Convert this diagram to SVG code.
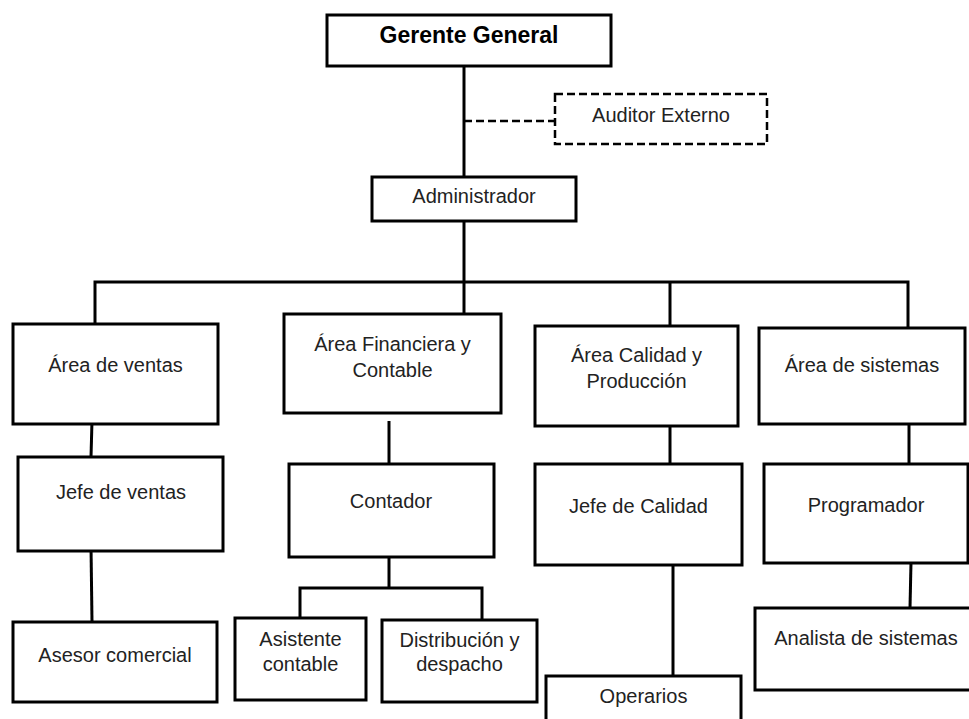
<svg xmlns="http://www.w3.org/2000/svg" width="969" height="719" viewBox="0 0 969 719">
  <style>
    .box { fill: #ffffff; stroke: #000000; stroke-width: 3; }
    .dash { fill: #ffffff; stroke: #000000; stroke-width: 2.5; stroke-dasharray: 8 4; }
    .lbl { font-family: "Liberation Sans", Arial, sans-serif; font-size: 20px; fill: #222222; text-anchor: middle; }
    .title { font-family: "Liberation Sans", Arial, sans-serif; font-size: 23px; font-weight: bold; fill: #000000; text-anchor: middle; }
    .link { fill: none; stroke: #000000; stroke-width: 3; }
    .link-dash { fill: none; stroke: #000000; stroke-width: 2.5; stroke-dasharray: 8 4; }
  </style>
  <rect width="969" height="719" fill="#ffffff"/>

  <!-- reporting lines -->
  <g id="connectors">
    <path class="link" d="M464 66 V177"/>
    <path class="link-dash" d="M464 121 H555"/>
    <path class="link" d="M464 221 V314"/>
    <path class="link" d="M95 324 V282 H908 V328"/>
    <path class="link" d="M670 282 V326"/>
    <path class="link" d="M92 421 L91 457"/>
    <path class="link" d="M91 546 L92 622"/>
    <path class="link" d="M389 421 V464"/>
    <path class="link" d="M389 557 V588"/>
    <path class="link" d="M300 618 V588 H482 V620"/>
    <path class="link" d="M670 421 V464"/>
    <path class="link" d="M673 560 V676"/>
    <path class="link" d="M909 424 V464"/>
    <path class="link" d="M911 562 L910 608"/>
  </g>

  <g id="gerente-general">
    <rect class="box" x="327" y="15" width="284" height="51"/>
    <text class="title" x="469" y="43">Gerente General</text>
  </g>
  <g id="auditor-externo">
    <rect class="dash" x="555" y="94" width="212" height="50"/>
    <text class="lbl" x="661" y="122">Auditor Externo</text>
  </g>
  <g id="administrador">
    <rect class="box" x="372" y="177" width="204" height="44"/>
    <text class="lbl" x="474" y="203">Administrador</text>
  </g>

  <g id="area-ventas">
    <rect class="box" x="13" y="324" width="205" height="100"/>
    <text class="lbl" x="115.5" y="372">Área de ventas</text>
  </g>
  <g id="area-financiera">
    <rect class="box" x="284" y="314" width="217" height="99"/>
    <text class="lbl" x="392.5" y="351">Área Financiera y</text>
    <text class="lbl" x="392.5" y="377">Contable</text>
  </g>
  <g id="area-calidad">
    <rect class="box" x="535" y="326" width="203" height="100"/>
    <text class="lbl" x="636.5" y="362">Área Calidad y</text>
    <text class="lbl" x="636.5" y="388">Producción</text>
  </g>
  <g id="area-sistemas">
    <rect class="box" x="759" y="328" width="206" height="96"/>
    <text class="lbl" x="862" y="372">Área de sistemas</text>
  </g>

  <g id="jefe-ventas">
    <rect class="box" x="18" y="457" width="205" height="94"/>
    <text class="lbl" x="121" y="499">Jefe de ventas</text>
  </g>
  <g id="contador">
    <rect class="box" x="289" y="464" width="205" height="93"/>
    <text class="lbl" x="391" y="508">Contador</text>
  </g>
  <g id="jefe-calidad">
    <rect class="box" x="535" y="464" width="207" height="101"/>
    <text class="lbl" x="638.5" y="513">Jefe de Calidad</text>
  </g>
  <g id="programador">
    <rect class="box" x="764" y="464" width="204" height="99"/>
    <text class="lbl" x="866" y="512">Programador</text>
  </g>

  <g id="asesor-comercial">
    <rect class="box" x="13" y="622" width="204" height="80"/>
    <text class="lbl" x="115" y="662">Asesor comercial</text>
  </g>
  <g id="asistente-contable">
    <rect class="box" x="235" y="618" width="131" height="82"/>
    <text class="lbl" x="300.5" y="646">Asistente</text>
    <text class="lbl" x="300.5" y="671">contable</text>
  </g>
  <g id="distribucion">
    <rect class="box" x="382" y="620" width="155" height="82"/>
    <text class="lbl" x="459.5" y="647">Distribución y</text>
    <text class="lbl" x="459.5" y="671">despacho</text>
  </g>
  <g id="operarios">
    <rect class="box" x="546" y="676" width="195" height="70"/>
    <text class="lbl" x="643.5" y="703">Operarios</text>
  </g>
  <g id="analista-sistemas">
    <rect class="box" x="755" y="608" width="225" height="82"/>
    <text class="lbl" x="866" y="645">Analista de sistemas</text>
  </g>
</svg>
